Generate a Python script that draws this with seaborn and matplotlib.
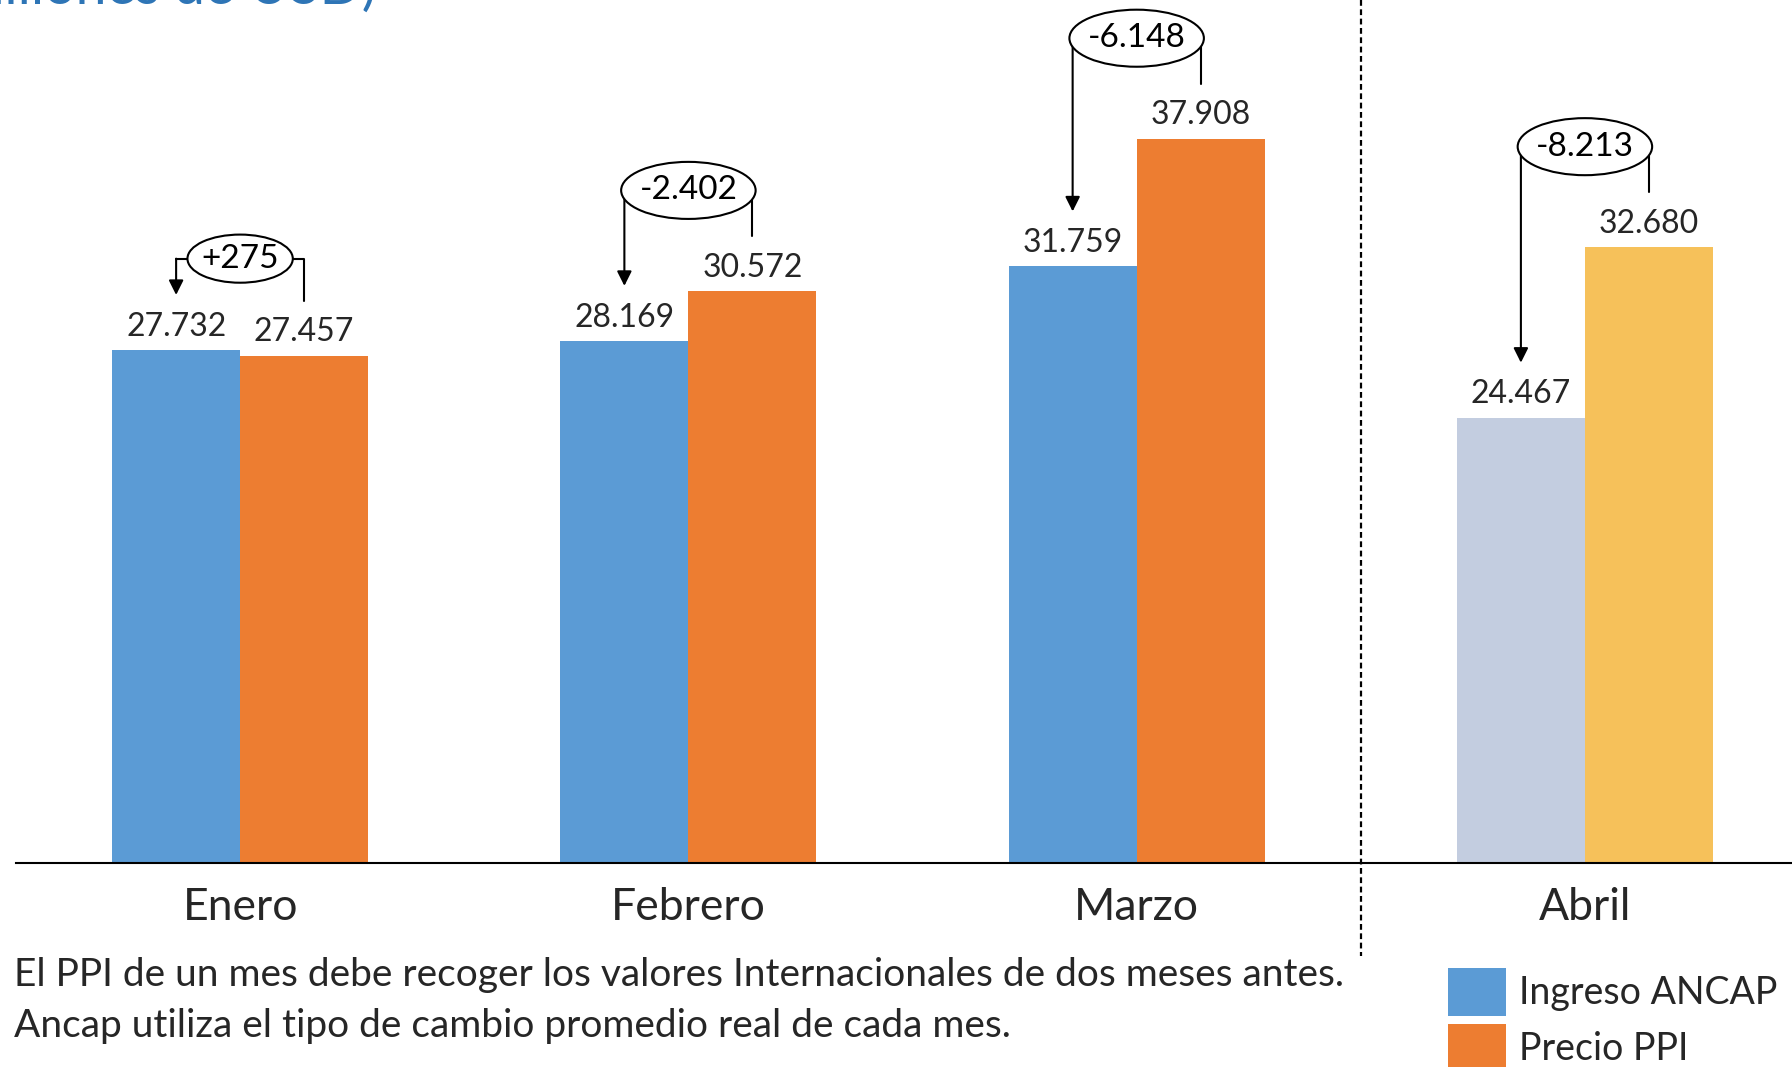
import pandas as pd
import matplotlib.pyplot as plt
import seaborn as sns
from matplotlib.patches import Ellipse

# --- datos ---
meses = ["Enero", "Febrero", "Marzo", "Abril"]
ingreso_ancap = [27732, 28169, 31759, 24467]
precio_ppi = [27457, 30572, 37908, 32680]
diferencias = ["+275", "-2.402", "-6.148", "-8.213"]
series = ["Ingreso ANCAP", "Precio PPI"]
nota = ["El PPI de un mes debe recoger los valores Internacionales de dos meses antes.",
        "Ancap utiliza el tipo de cambio promedio real de cada mes."]

df = pd.DataFrame({
    "mes": meses * 2,
    "serie": [series[0]] * 4 + [series[1]] * 4,
    "valor": ingreso_ancap + precio_ppi,
})

sns.set_style("white")
plt.rcParams['font.family'] = ['Lato', 'DejaVu Sans']

W, H = 1792, 1067
fig = plt.figure(figsize=(W / 100, H / 100), dpi=100)
ax = fig.add_axes([16 / W, 204 / H, 1 - 16 / W, 863 / H])

sns.barplot(data=df, x="mes", y="valor", hue="serie",
            palette=["#5B9BD5", "#ED7D31"], width=0.571, saturation=1,
            linewidth=0, ax=ax)

# Abril en tonos claros
ax.containers[0][3].set_facecolor("#C3CDE0")
ax.containers[1][3].set_facecolor("#F6C15A")

ax.set_ylim(3000, 44600)
ax.set_xlim(-0.5, 3.462)

# etiquetas de valores
for cont in ax.containers:
    labels = [f"{int(b.get_height()):,}".replace(",", ".") for b in cont]
    ax.bar_label(cont, labels=labels, padding=6, fontsize=23,
                 color="#262626")

# llaves con diferencias
off = 0.1428
tip = 2650
for i, d in enumerate(diferencias):
    xb, xo = i - off, i + off
    yb, yo = ingreso_ancap[i] + tip, precio_ppi[i] + tip
    if i == 0:
        ye = max(ingreso_ancap[i], precio_ppi[i]) + 4400
        ew, eh = 0.235, 2320
    else:
        ye = max(ingreso_ancap[i], precio_ppi[i]) + 4850
        ew, eh = 0.30, 2750
    ax.plot([xb, xo, xo], [ye, ye, yo], color="black", lw=1.5, zorder=3)
    ax.annotate("", xy=(xb, yb), xytext=(xb, ye),
                arrowprops=dict(arrowstyle="-|>", color="black", lw=1.5,
                                mutation_scale=22, shrinkA=0, shrinkB=0),
                zorder=3)
    ax.add_patch(Ellipse((i, ye), ew, eh, facecolor="white",
                         edgecolor="black", lw=1.5, zorder=4))
    ax.text(i, ye, d, ha="center", va="center", fontsize=24,
            color="black", zorder=5)

# separador de Abril
ax.plot([2.5, 2.5], [1.0, -0.108], transform=ax.get_xaxis_transform(),
        color="black", lw=1.6, linestyle=(0, (2.6, 1.6)), clip_on=False)

sns.despine(ax=ax, left=True)
ax.spines["bottom"].set_color("black")
ax.spines["bottom"].set_linewidth(1.5)
ax.set_yticks([])
ax.set_xlabel("")
ax.set_ylabel("")
ax.tick_params(axis="x", length=0, pad=17, labelsize=32, colors="#262626")

ax.legend(loc="upper left", bbox_to_anchor=(1448 / W, 1 - 968 / H),
          bbox_transform=fig.transFigure, frameon=False, fontsize=27,
          handlelength=1.55, handleheight=1.6, labelspacing=0.2,
          handletextpad=0.35, borderaxespad=0, borderpad=0)

# titulo cortado arriba
fig.text(377 / W, 1 - 4 / H, "(millones de USD)", ha="right", va="baseline",
         fontsize=40, color="#2E75B6")

fig.text(14 / W, 1 - 975 / H, nota[0], va="center", fontsize=28,
         color="#262626")
fig.text(14 / W, 1 - 1026 / H, nota[1], va="center", fontsize=28,
         color="#262626")

fig.savefig("out.png", dpi=100)
